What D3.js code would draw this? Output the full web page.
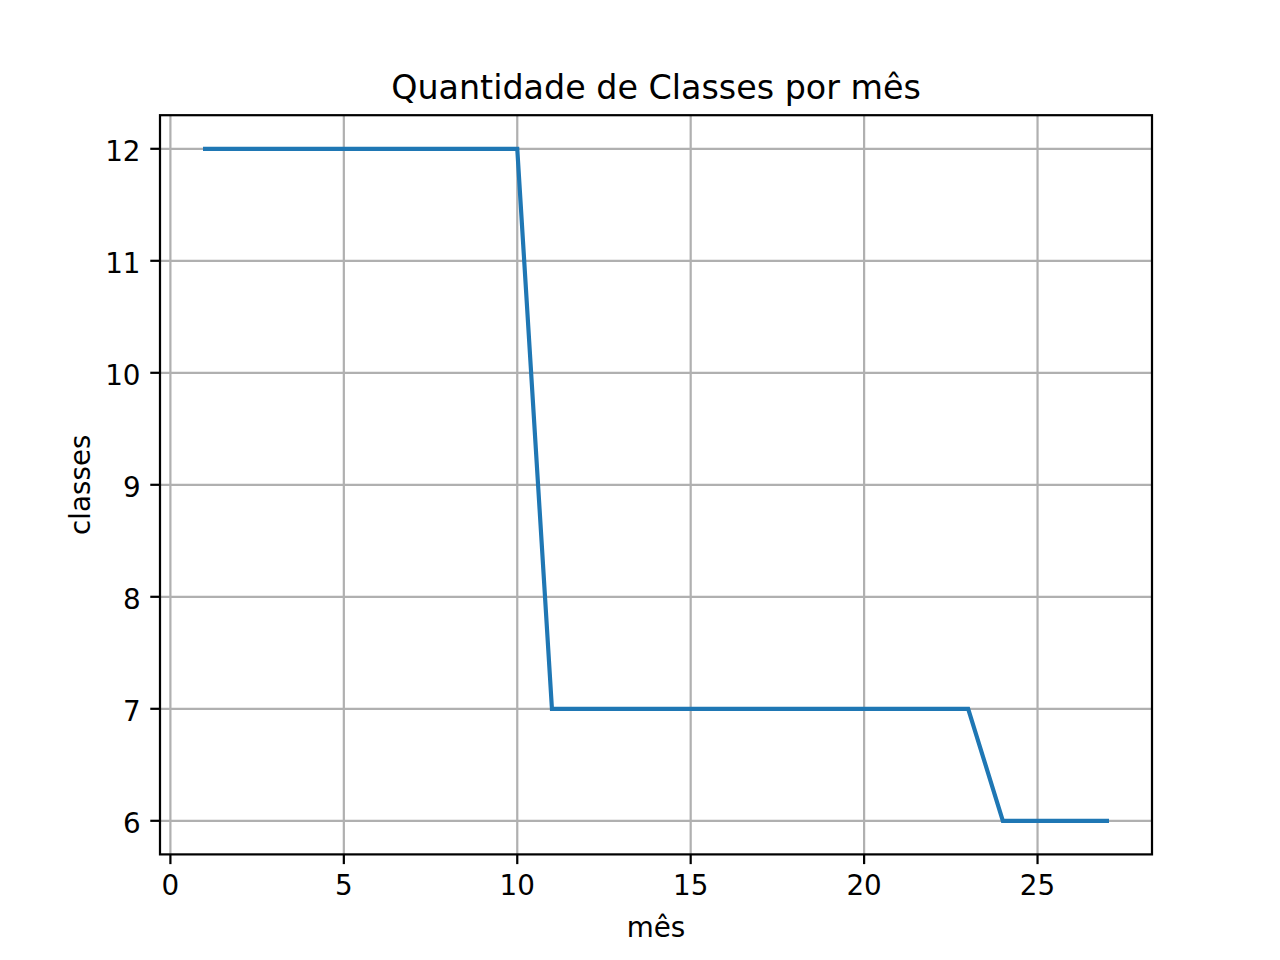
<!DOCTYPE html>
<html>
<head>
<meta charset="utf-8">
<script src="https://cdn.jsdelivr.net/npm/d3@7"></script>
<style>
  html, body { margin: 0; padding: 0; background: #fff; }
  svg { display: block; }
  text { font-family: "DejaVu Sans", sans-serif; fill: #000; }
</style>
</head>
<body>
<svg id="chart" width="1280" height="960"></svg>
<script>
const months = [1,2,3,4,5,6,7,8,9,10,11,12,13,14,15,16,17,18,19,20,21,22,23,24,25,26,27];
const classes = [12,12,12,12,12,12,12,12,12,12,7,7,7,7,7,7,7,7,7,7,7,7,7,6,6,6,6];
const xTicks = [0,5,10,15,20,25];
const yTicks = [6,7,8,9,10,11,12];
const title = "Quantidade de Classes por mês";
const xLabel = "mês";
const yLabel = "classes";

(function () {
const pL = 160, pR = 1152, pT = 115.2, pB = 854.4;
const svg = d3.select("#chart");

const xMin = d3.min(months), xMax = d3.max(months);
const yMin = d3.min(classes), yMax = d3.max(classes);
const xm = (xMax - xMin) * 0.05, ym = (yMax - yMin) * 0.05;
const x = d3.scaleLinear().domain([xMin - xm, xMax + xm]).range([pL, pR]);
const y = d3.scaleLinear().domain([yMin - ym, yMax + ym]).range([pB, pT]);

const lw = 2.22, tickLen = 9.72, pad = 9.72, fs = 27.78;

// grid
const g = svg.append("g");
g.selectAll(".gx").data(xTicks).join("line").attr("class", "gx")
  .attr("x1", d => x(d)).attr("x2", d => x(d))
  .attr("y1", pT).attr("y2", pB)
  .attr("stroke", "#b0b0b0").attr("stroke-width", lw);
g.selectAll(".gy").data(yTicks).join("line").attr("class", "gy")
  .attr("y1", d => y(d)).attr("y2", d => y(d))
  .attr("x1", pL).attr("x2", pR)
  .attr("stroke", "#b0b0b0").attr("stroke-width", lw);

// line
const line = d3.line().x((d, i) => x(months[i])).y(d => y(d));
svg.append("path").datum(classes)
  .attr("d", line)
  .attr("fill", "none")
  .attr("stroke", "#1f77b4")
  .attr("stroke-width", 4.17)
  .attr("stroke-linejoin", "miter")
  .attr("stroke-linecap", "square");

// spines
svg.append("rect")
  .attr("x", pL).attr("y", pT)
  .attr("width", pR - pL).attr("height", pB - pT)
  .attr("fill", "none").attr("stroke", "#000").attr("stroke-width", lw);

// x ticks
const xt = svg.append("g");
xt.selectAll("line").data(xTicks).join("line")
  .attr("x1", d => x(d)).attr("x2", d => x(d))
  .attr("y1", pB).attr("y2", pB + tickLen)
  .attr("stroke", "#000").attr("stroke-width", lw);
xt.selectAll("text").data(xTicks).join("text")
  .attr("x", d => x(d)).attr("y", pB + tickLen + pad + 0.729 * fs + 0.5)
  .attr("text-anchor", "middle").attr("font-size", fs)
  .text(d => d);

// y ticks
const yt = svg.append("g");
yt.selectAll("line").data(yTicks).join("line")
  .attr("y1", d => y(d)).attr("y2", d => y(d))
  .attr("x1", pL).attr("x2", pL - tickLen)
  .attr("stroke", "#000").attr("stroke-width", lw);
yt.selectAll("text").data(yTicks).join("text")
  .attr("x", pL - tickLen - pad).attr("y", d => y(d) + 11.8)
  .attr("text-anchor", "end").attr("font-size", fs)
  .text(d => d);

// labels
svg.append("text").attr("x", (pL + pR) / 2).attr("y", 937)
  .attr("text-anchor", "middle").attr("font-size", fs).text(xLabel);
svg.append("text")
  .attr("transform", `translate(90,${(pT + pB) / 2}) rotate(-90)`)
  .attr("text-anchor", "middle").attr("font-size", fs).text(yLabel);
svg.append("text").attr("x", (pL + pR) / 2).attr("y", 99)
  .attr("text-anchor", "middle").attr("font-size", 33.33).text(title);
})();
</script>
</body>
</html>
